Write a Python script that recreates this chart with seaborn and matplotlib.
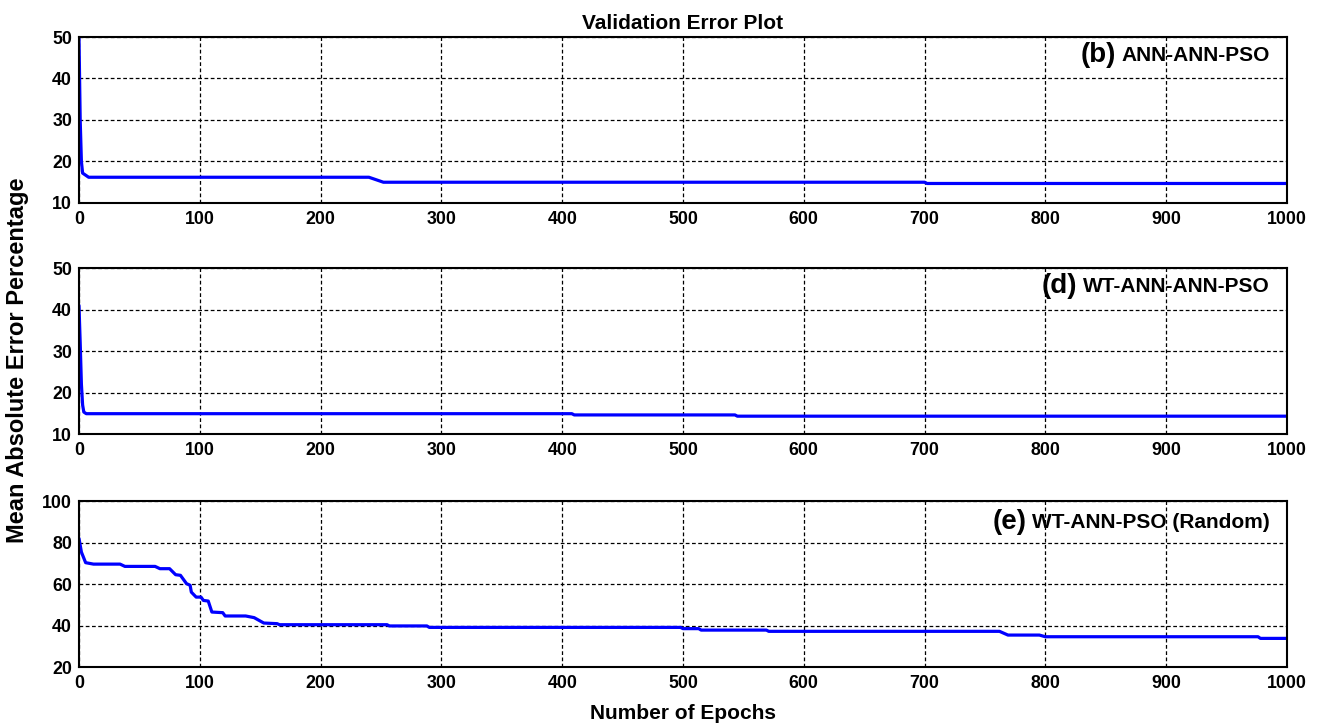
import numpy as np
import pandas as pd
import matplotlib
matplotlib.use('Agg')
import matplotlib.pyplot as plt
import seaborn as sns

# panel (b) ANN-ANN-PSO
epochs_b = [0, 1, 2, 3, 5, 8, 240, 245, 252, 700, 702, 1000]
err_b = [50, 30, 20, 17.2, 16.8, 16.2, 16.2, 15.7, 15.0, 15.0, 14.7, 14.7]

# panel (d) WT-ANN-ANN-PSO
epochs_d = [0, 1, 2, 3, 4, 6, 408, 410, 543, 545, 1000]
err_d = [41, 32, 22, 17, 15.3, 14.9, 14.9, 14.6, 14.6, 14.3, 14.3]

# panel (e) WT-ANN-PSO (Random)
epochs_e = [0, 2, 5.5, 12, 34, 38, 63, 67, 75, 80, 84, 89, 92, 93, 97, 101, 103,
            107, 110, 119, 121, 138, 145, 153, 164, 166, 255, 257, 288, 290,
            498, 500, 513, 515, 569, 571, 762, 769, 795, 800, 976, 978, 1000]
err_e = [82, 75.4, 70.3, 69.6, 69.6, 68.5, 68.5, 67.4, 67.4, 64.5, 64.2, 60.2,
         59.4, 56.1, 53.7, 53.7, 52.1, 51.8, 46.5, 46.2, 44.6, 44.6, 43.8, 41.2,
         40.9, 40.4, 40.4, 39.8, 39.8, 39.1, 39.1, 38.5, 38.5, 37.8, 37.8, 37.2,
         37.2, 35.4, 35.4, 34.6, 34.6, 33.8, 33.8]

panel_tags = ['(b)', '(d)', '(e)']
panel_names = ['ANN-ANN-PSO', 'WT-ANN-ANN-PSO', 'WT-ANN-PSO (Random)']
ylims = [(10, 50), (10, 50), (20, 100)]
yticks = [[10, 20, 30, 40, 50], [10, 20, 30, 40, 50], [20, 40, 60, 80, 100]]
xticks = list(range(0, 1001, 100))

sns.set_theme(style='white')
plt.rcParams['font.family'] = ['Liberation Sans', 'DejaVu Sans']
plt.rcParams['font.weight'] = 'bold'
plt.rcParams['text.color'] = 'black'
plt.rcParams['axes.labelcolor'] = 'black'

fig = plt.figure(figsize=(13.23, 7.27), dpi=100)
left, width, height = 0.0597, 0.9131, 0.2283
bottoms = [0.7208, 0.4030, 0.0825]

series = [(epochs_b, err_b), (epochs_d, err_d), (epochs_e, err_e)]
axes = []
for i, (ep, er) in enumerate(series):
    ax = fig.add_axes([left, bottoms[i], width, height])
    df = pd.DataFrame({'Epoch': ep, 'Error': er})
    sns.lineplot(data=df, x='Epoch', y='Error', color='#0000ff', linewidth=2.3, ax=ax)
    ax.set_xlim(0, 1000)
    ax.set_ylim(*ylims[i])
    ax.set_xticks(xticks)
    ax.set_yticks(yticks[i])
    ax.set_xlabel('')
    ax.set_ylabel('')
    ax.grid(True, color='black', linestyle=(0, (3, 2)), linewidth=0.9)
    for s in ax.spines.values():
        s.set_color('black')
        s.set_linewidth(1.5)
    ax.tick_params(axis='x', labelsize=12.8, colors='black', direction='in',
                   length=4, width=1, pad=6)
    ax.tick_params(axis='y', labelsize=12.8, colors='black', direction='in',
                   length=4, width=1, pad=5)
    for lab in ax.get_xticklabels() + ax.get_yticklabels():
        lab.set_fontweight('bold')
    axes.append(ax)

axes[0].set_title('Validation Error Plot', fontsize=15, fontweight='bold',
                  color='black', pad=6)

# panel labels: tag + name, right aligned near top-right corner
fig.canvas.draw()
renderer = fig.canvas.get_renderer()
ys = [0.89, 0.89, 0.873]
for i, ax in enumerate(axes):
    t = ax.text(0.986, ys[i], panel_names[i], transform=ax.transAxes, ha='right',
                va='center', fontsize=15, fontweight='bold', color='black')
    bb = t.get_window_extent(renderer=renderer)
    x0 = ax.transAxes.inverted().transform((bb.x0 - 6, 0))[0]
    ax.text(x0, ys[i], panel_tags[i], transform=ax.transAxes, ha='right',
            va='center', fontsize=20, fontweight='bold', color='black')

fig.text(0.013, 0.505, 'Mean Absolute Error Percentage', rotation=90, ha='center',
         va='center', fontsize=17, fontweight='bold', color='black')
fig.text(0.516, 0.019, 'Number of Epochs', ha='center', va='center',
         fontsize=15, fontweight='bold', color='black')

fig.savefig('out.png', dpi=100)
